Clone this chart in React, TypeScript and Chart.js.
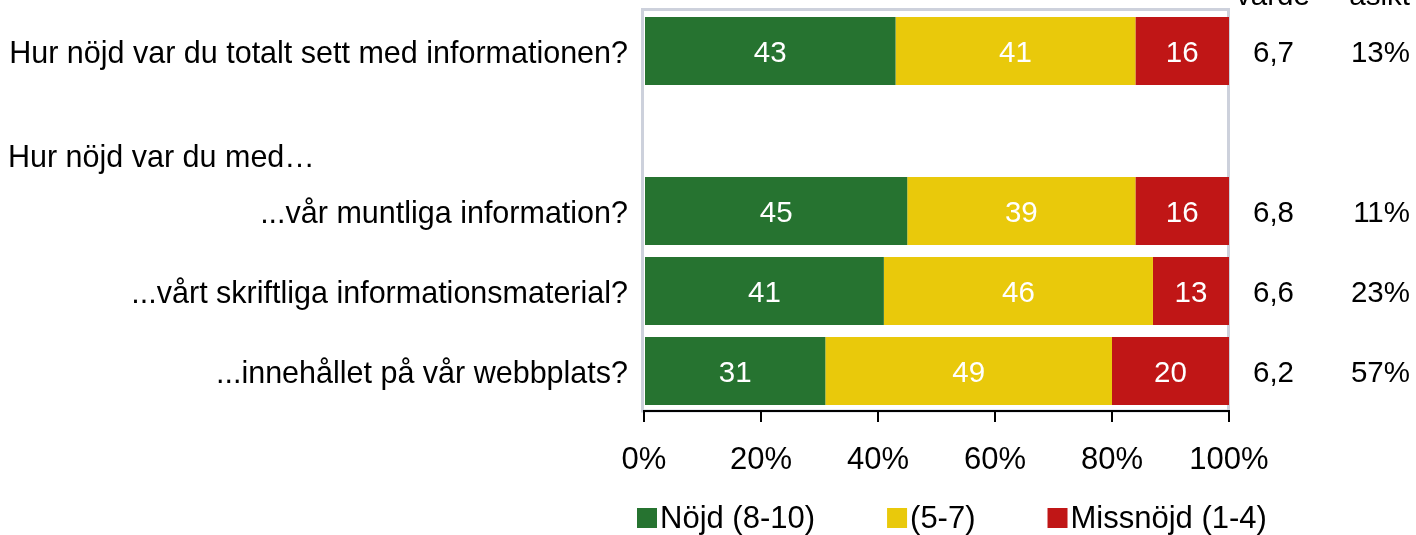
import React, { useEffect, useRef } from "react";
import { Chart, registerables } from "chart.js";

Chart.register(...registerables);

const categories = [
  "Hur nöjd var du totalt sett med informationen?",
  "",
  "...vår muntliga information?",
  "...vårt skriftliga informationsmaterial?",
  "...innehållet på vår webbplats?",
];
const satisfied = [43, null, 45, 41, 31];
const neutral = [41, null, 39, 46, 49];
const dissatisfied = [16, null, 16, 13, 20];
const seriesLabels = ["Nöjd (8-10)", "(5-7)", "Missnöjd (1-4)"];
const seriesColors = ["#267330", "#e9c90b", "#c01616"];
const meanValues = ["6,7", "", "6,8", "6,6", "6,2"];
const noOpinion = ["13%", "", "11%", "23%", "57%"];
const groupHeading = "Hur nöjd var du med…";
const headerMean = "värde";
const headerNoOpinion = "åsikt";
const xTicks = [0, 20, 40, 60, 80, 100];

const FONT = '"Liberation Sans", Arial, Helvetica, sans-serif';
const W = 1416;
const H = 535;

export default function App() {
  const ref = useRef<HTMLCanvasElement | null>(null);

  useEffect(() => {
    const canvas = ref.current;
    if (!canvas) return;

    const overlay = {
      id: "overlay",
      beforeDraw(chart: any) {
        const { ctx, chartArea: a } = chart;
        ctx.save();
        ctx.strokeStyle = "#cdd1dc";
        ctx.lineWidth = 3;
        ctx.strokeRect(a.left - 1.5, a.top - 1.5, a.right - a.left + 1, a.bottom - a.top + 1.5);
        ctx.restore();
      },
      afterDatasetsDraw(chart: any) {
        const { ctx } = chart;
        ctx.save();
        ctx.fillStyle = "#ffffff";
        ctx.font = `29.5px ${FONT}`;
        ctx.textAlign = "center";
        ctx.textBaseline = "middle";
        chart.data.datasets.forEach((ds: any, di: number) => {
          const meta = chart.getDatasetMeta(di);
          meta.data.forEach((el: any, i: number) => {
            const v = ds.data[i];
            if (v == null) return;
            const p = el.getProps(["x", "base", "y"], true);
            ctx.fillText(String(v), (p.x + p.base) / 2, p.y + 3);
          });
        });
        ctx.restore();
      },
      afterDraw(chart: any) {
        const { ctx, chartArea: a } = chart;
        const yScale = chart.scales.y;
        ctx.save();
        ctx.fillStyle = "#000";
        ctx.font = `29.5px ${FONT}`;
        // right-side columns
        ctx.textBaseline = "middle";
        categories.forEach((_, i) => {
          const y = yScale.getPixelForValue(i) + 3;
          ctx.textAlign = "left";
          if (meanValues[i]) ctx.fillText(meanValues[i], a.right + 24, y);
          ctx.textAlign = "right";
          if (noOpinion[i]) ctx.fillText(noOpinion[i], W - 6, y);
        });
        // headers (mostly cut off at top)
        ctx.textBaseline = "alphabetic";
        ctx.textAlign = "center";
        ctx.fillText(headerMean, a.right + 44, 5);
        ctx.textAlign = "right";
        ctx.fillText(headerNoOpinion, W - 6, 5);
        // group heading
        ctx.font = `30.5px ${FONT}`;
        ctx.textAlign = "left";
        ctx.textBaseline = "middle";
        ctx.fillText(groupHeading, 8, yScale.getPixelForValue(1) + 28);
        // legend
        ctx.font = `31px ${FONT}`;
        const gap = 72;
        const box = 20;
        let x = a.left - 7;
        const ly = 518;
        seriesLabels.forEach((l, i) => {
          ctx.fillStyle = seriesColors[i];
          ctx.fillRect(x, ly - box / 2, box, box);
          ctx.fillStyle = "#000";
          ctx.textAlign = "left";
          ctx.fillText(l, x + box + 3, ly + 1);
          x += box + 3 + ctx.measureText(l).width + gap;
        });
        ctx.restore();
      },
    };

    const chart = new Chart(canvas, {
      type: "bar",
      data: {
        labels: categories,
        datasets: [satisfied, neutral, dissatisfied].map((d, i) => ({
          label: seriesLabels[i],
          data: d,
          backgroundColor: seriesColors[i],
          borderWidth: 0,
          barPercentage: 0.85,
          categoryPercentage: 1.0,
        })),
      },
      options: {
        indexAxis: "y",
        responsive: false,
        animation: false,
        layout: { padding: { top: 11, right: 187, left: 0, bottom: 0 } },
        plugins: { legend: { display: false }, tooltip: { enabled: false } },
        scales: {
          x: {
            stacked: true,
            min: 0,
            max: 100,
            afterBuildTicks: (s: any) => {
              s.ticks = xTicks.map((v) => ({ value: v }));
            },
            ticks: {
              callback: (v: any) => v + "%",
              color: "#000",
              font: { family: FONT, size: 31 },
              padding: 20,
              maxRotation: 0,
              autoSkip: false,
            },
            grid: {
              drawOnChartArea: false,
              drawTicks: true,
              tickLength: 11,
              color: "#000",
              lineWidth: 2,
            },
            border: { color: "#000", width: 2 },
            afterFit: (s: any) => {
              s.height = 124;
            },
          },
          y: {
            stacked: true,
            ticks: {
              color: "#000",
              font: { family: FONT, size: 30.5 },
              padding: 16,
              labelOffset: 4,
              autoSkip: false,
            },
            grid: { display: false, drawTicks: false },
            border: { display: false },
            afterFit: (s: any) => {
              s.width = 644;
              s.paddingTop = 0;
              s.paddingBottom = 0;
            },
          },
        },
      },
      plugins: [overlay],
    } as any);

    return () => chart.destroy();
  }, []);

  return (
    <div style={{ position: "absolute", left: 0, top: 0, width: W, height: H, background: "#fff" }}>
      <canvas ref={ref} width={W} height={H} style={{ display: "block" }} />
    </div>
  );
}
